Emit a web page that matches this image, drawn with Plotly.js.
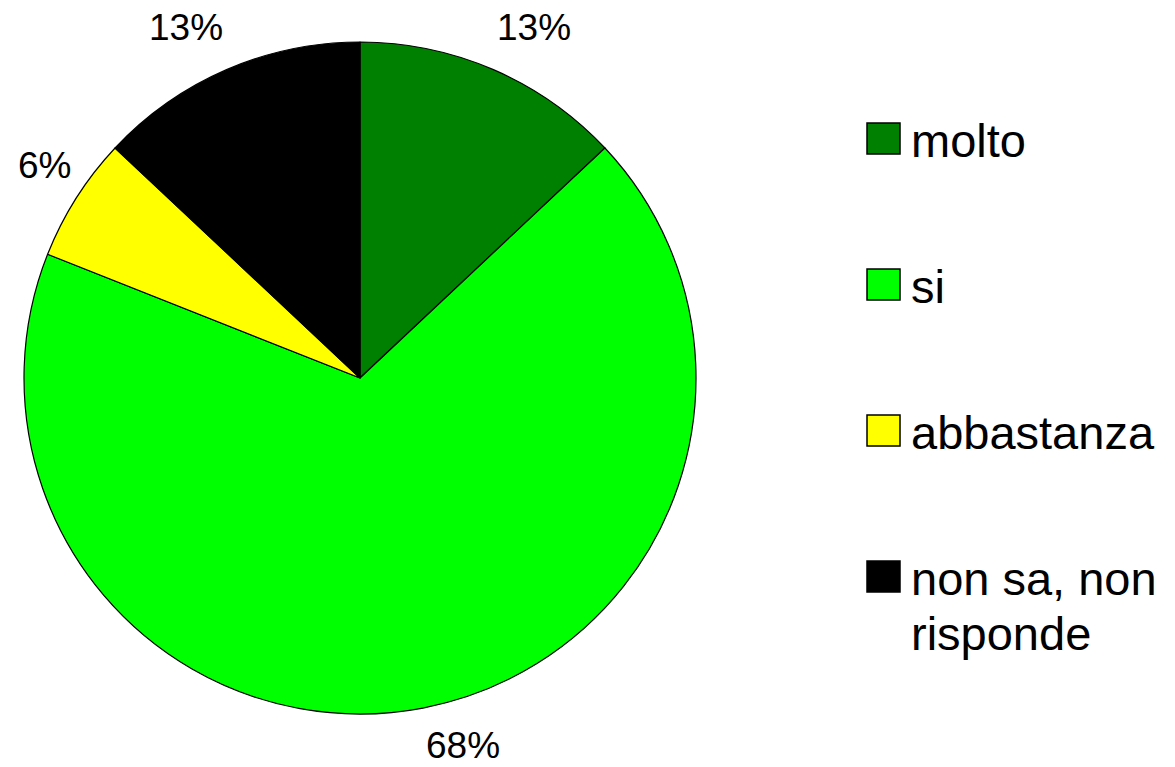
<!DOCTYPE html>
<html>
<head>
<meta charset="utf-8">
<script src="https://cdn.plot.ly/plotly-3.0.1.min.js"></script>
<style>html,body{margin:0;padding:0;background:#fff;}#chart{width:1175px;height:767px;}</style>
</head>
<body>
<div id="chart"></div>
<script>
// Data
const categories = ["molto", "si", "abbastanza", "non sa, non<br>risponde"];
const values = [13, 68, 6, 13];
const colors = ["#008000", "#00FF00", "#FFFF00", "#000000"];

const W = 1175, H = 767;
const FONT = "Arial, 'Liberation Sans', sans-serif";
const px = x => x / W;
const py = y => 1 - y / H;

// pie geometry (pixels)
const cx = 360, cy = 378, R = 336;

const trace = {
  type: "pie",
  labels: categories,
  values: values,
  marker: { colors: colors, line: { color: "#000000", width: 1.2 } },
  sort: false,
  direction: "clockwise",
  rotation: 0,
  textinfo: "none",
  showlegend: false,
  hoverinfo: "label+percent",
  domain: { x: [px(cx - R), px(cx + R)], y: [py(cy + R), py(cy - R)] }
};

const shapes = [], annotations = [];

// percentage labels outside the slices, following each slice's mid-angle
const total = values.reduce((a, b) => a + b, 0);
let cum = 0;
const distX = R + 4, distY = R + 24, halfTop = 20, halfBottom = 14;
values.forEach((v, i) => {
  const mid = (cum + v / 2) / total * 2 * Math.PI; // clockwise from 12 o'clock
  cum += v;
  const sx = Math.sin(mid), cy_ = Math.cos(mid);
  const xp = cx + distX * sx;
  const yp = cy - distY * cy_ + (cy_ >= 0 ? -halfTop : halfBottom);
  annotations.push({
    xref: "paper", yref: "paper",
    x: px(xp), y: py(yp),
    xanchor: sx >= 0 ? "left" : "right",
    yanchor: "middle",
    text: Math.round(v / total * 100) + "%",
    showarrow: false,
    font: { family: FONT, size: 37, color: "#000000" }
  });
});

// custom legend (large squares, wide spacing as in the reference)
const legTop0 = 123, legStep = 146, sq = 31, lineGap = 55;
categories.forEach((c, i) => {
  const top = legTop0 + i * legStep;
  shapes.push({
    type: "rect", xref: "paper", yref: "paper",
    x0: px(867), x1: px(867 + 33), y0: py(top + sq), y1: py(top),
    fillcolor: colors[i], line: { color: "#000000", width: 1.5 }
  });
  c.split("<br>").forEach((line, k) => {
    annotations.push({
      xref: "paper", yref: "paper",
      x: px(909), y: py(top + sq / 2 + 2 + k * lineGap),
      xanchor: "left", yanchor: "middle", align: "left",
      text: line, showarrow: false,
      font: { family: FONT, size: 47, color: "#000000" }
    });
  });
});

const layout = {
  width: W, height: H,
  margin: { l: 0, r: 0, t: 0, b: 0 },
  paper_bgcolor: "#ffffff",
  plot_bgcolor: "#ffffff",
  font: { family: FONT, color: "#000000" },
  showlegend: false,
  shapes: shapes,
  annotations: annotations
};

Plotly.newPlot("chart", [trace], layout, { displayModeBar: false, staticPlot: true });
</script>
</body>
</html>
